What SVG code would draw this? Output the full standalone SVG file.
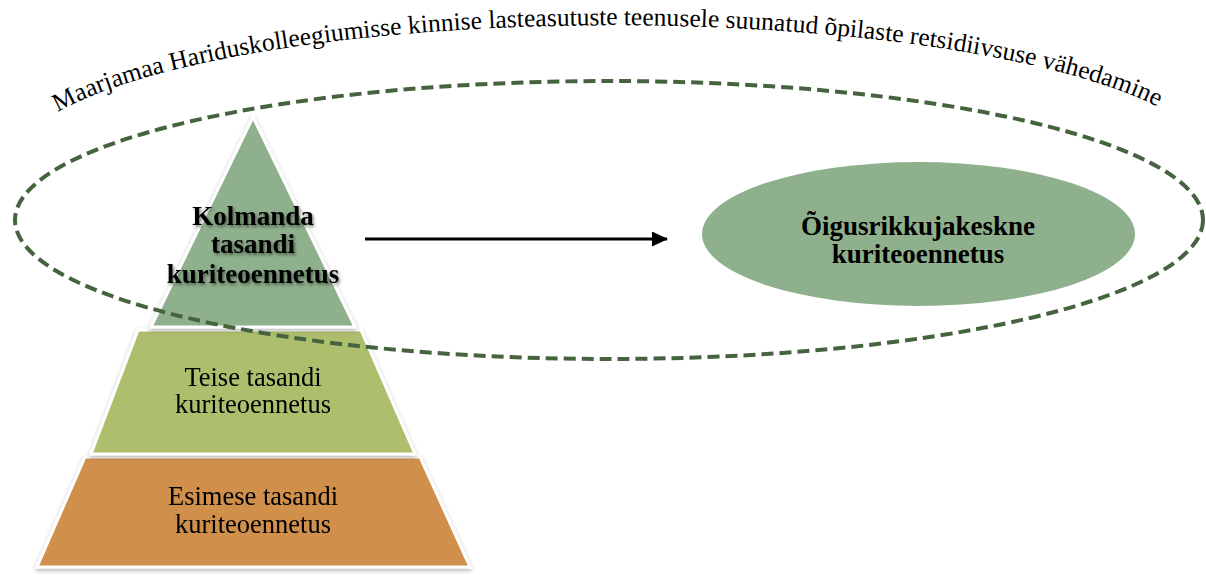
<svg xmlns="http://www.w3.org/2000/svg" width="1206" height="575" viewBox="0 0 1206 575">
  <style>
    .serif { font-family: "Liberation Serif", "Times New Roman", serif; fill: #000; }
    .lbl { font-size: 26.5px; text-anchor: middle; }
    .bold { font-weight: bold; font-size: 27px; text-anchor: middle; }
    .tier { stroke: #ffffff; stroke-width: 3; stroke-linejoin: miter; }
    .dash { fill: none; stroke: #46633F; stroke-width: 4; stroke-dasharray: 12 6; }
  </style>
  <defs>
    <filter id="pshadow" x="-10%" y="-10%" width="120%" height="130%">
      <feDropShadow dx="0" dy="2" stdDeviation="2" flood-color="#000" flood-opacity="0.3"/>
    </filter>
    <filter id="tshadow" x="-10%" y="-20%" width="120%" height="140%">
      <feDropShadow dx="1.5" dy="2" stdDeviation="1.5" flood-color="#000" flood-opacity="0.45"/>
    </filter>
    <marker id="arrow" markerWidth="16" markerHeight="15" refX="15" refY="7.5" orient="auto" markerUnits="userSpaceOnUse">
      <path d="M0,0 L16,7.5 L0,15 Z" fill="#000"/>
    </marker>
    <path id="arc" d="M 58 112 A 600 140 0 0 1 1164 110"/>
  </defs>

  <g id="tier-bottom" filter="url(#pshadow)">
    <polygon class="tier" points="85,457 420,457 470,567 37,567" fill="#D0904B"/>
    <text class="serif lbl" x="253" y="505">Esimese tasandi</text>
    <text class="serif lbl" x="253" y="533">kuriteoennetus</text>
  </g>

  <g id="tier-middle" filter="url(#pshadow)">
    <polygon class="tier" points="138,330 361,330 415,454 91,454" fill="#ADBF6D"/>
    <text class="serif lbl" x="253" y="386">Teise tasandi</text>
    <text class="serif lbl" x="253" y="413">kuriteoennetus</text>
  </g>

  <g id="tier-top" filter="url(#pshadow)">
    <polygon class="tier" points="253,117 355,327 151,327" fill="#8FB08C"/>
  </g>

  <g id="offender-node">
    <ellipse cx="918.5" cy="234" rx="216.5" ry="72" fill="#8FB08C"/>
    <text class="serif bold" x="918" y="235">Õigusrikkujakeskne</text>
    <text class="serif bold" x="918" y="263">kuriteoennetus</text>
  </g>

  <g id="scope-ellipse">
    <ellipse class="dash" cx="609" cy="220" rx="594" ry="139"/>
  </g>

  <g id="tier-top-label" filter="url(#tshadow)">
    <text class="serif bold" x="253" y="225">Kolmanda</text>
    <text class="serif bold" x="253" y="253">tasandi</text>
    <text class="serif bold" x="253" y="283">kuriteoennetus</text>
  </g>

  <g id="connectors">
    <line x1="365" y1="239" x2="667" y2="239" stroke="#000" stroke-width="3" marker-end="url(#arrow)"/>
  </g>

  <g id="title">
    <text class="serif" font-size="25.5"><textPath href="#arc" textLength="1120" lengthAdjust="spacing">Maarjamaa Hariduskolleegiumisse kinnise lasteasutuste teenusele suunatud õpilaste retsidiivsuse vähedamine</textPath></text>
  </g>
</svg>
